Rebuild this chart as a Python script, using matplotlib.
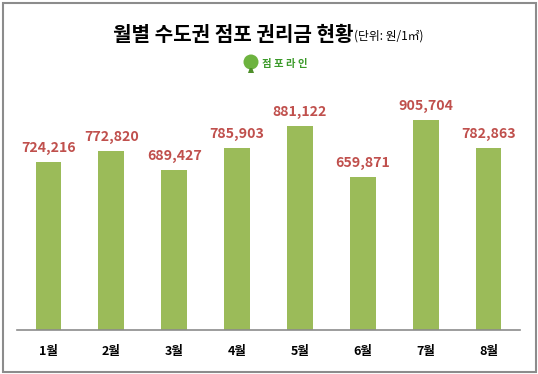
import matplotlib
matplotlib.use("Agg")
import matplotlib.pyplot as plt
from matplotlib.patches import Rectangle, Ellipse, Polygon

plt.rcParams['font.family'] = ['Noto Sans CJK KR', 'DejaVu Sans']

months = ['1월', '2월', '3월', '4월', '5월', '6월', '7월', '8월']
values = [724216, 772820, 689427, 785903, 881122, 659871, 905704, 782863]

W, H = 538, 374
fig = plt.figure(figsize=(W / 100, H / 100), dpi=100)
fig.patch.set_facecolor('white')

def fx(px):
    return px / W

def fy(py):
    return 1 - py / H

ax = fig.add_axes([fx(17), fy(330), fx(520) - fx(17), fy(98) - fy(330)])
x = list(range(len(months)))
ax.bar(x, values, width=0.41, color='#9BBB59', zorder=2)
ax.set_xlim(-0.5, len(months) - 0.5)
ax.set_ylim(0, 1000000)
ax.set_yticks([])
ax.set_xticks(x)
ax.set_xticklabels(months, fontsize=9, fontweight='bold', color='black')
ax.tick_params(axis='x', length=0, pad=11)
for s in ['top', 'right', 'left']:
    ax.spines[s].set_visible(False)
ax.spines['bottom'].set_color('#8c8c8c')
ax.spines['bottom'].set_linewidth(1.2)

for xi, v in zip(x, values):
    ax.annotate(f'{v:,}', (xi, v), xytext=(0, 5), textcoords='offset points',
                ha='center', va='bottom', fontsize=10.2, fontweight='heavy',
                color='#C0504D')

# Title
t = fig.text(fx(113), fy(41), '월별 수도권 점포 권리금 현황', fontsize=14.5,
             fontweight='bold', ha='left', va='baseline', color='black')
fig.canvas.draw()
bb = t.get_window_extent(fig.canvas.get_renderer())
fig.text(bb.x1 / W + fx(1), fy(40), '(단위: 원/1㎡)', fontsize=8.5,
         ha='left', va='baseline', color='black')

# Logo
fig.patches.append(Ellipse((fx(251), fy(62)), fx(15), 15 / H,
                           transform=fig.transFigure, facecolor='#6DB33F',
                           edgecolor='none'))
fig.patches.append(Polygon([(fx(249.8), fy(68)), (fx(252.2), fy(68)),
                            (fx(254), fy(73)), (fx(248), fy(73))],
                           closed=True, transform=fig.transFigure,
                           facecolor='#4E8F2A', edgecolor='none'))
fig.text(fx(262), fy(63.5), '점 포 라 인', fontsize=7.5, fontweight='bold',
         color='#3C9A2A', ha='left', va='center')

# Outer border
fig.patches.append(Rectangle((fx(2.5), fy(371.5)), fx(535.5) - fx(2.5),
                             fy(2.5) - fy(371.5), transform=fig.transFigure,
                             fill=False, edgecolor='#8c8c8c', linewidth=1.5))

fig.savefig('out.png', dpi=100, facecolor='white')
